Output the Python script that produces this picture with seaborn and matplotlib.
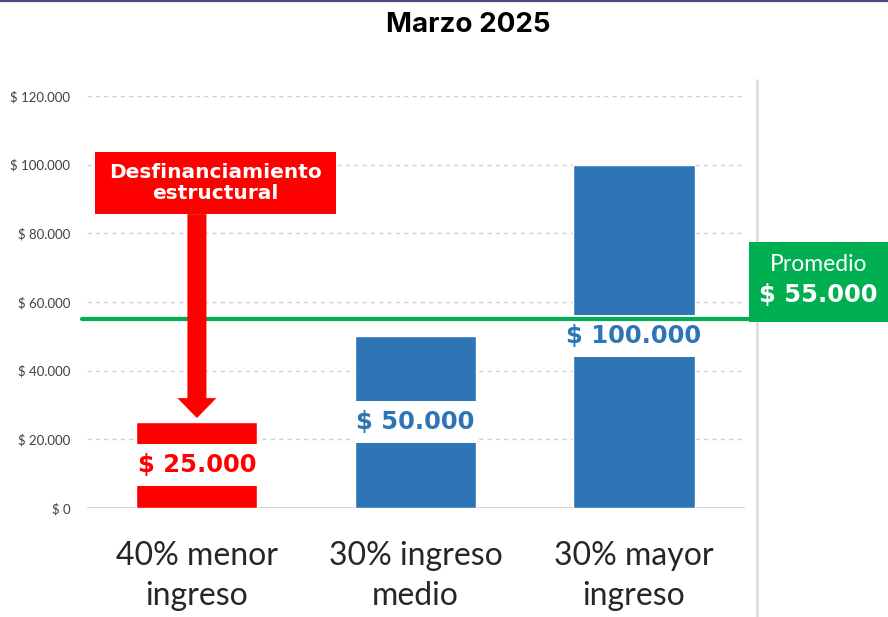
import matplotlib
matplotlib.use("Agg")
import matplotlib.pyplot as plt
import matplotlib.patches as mpatches
import matplotlib.lines as mlines
import matplotlib.transforms as mtransforms
import seaborn as sns
import pandas as pd

# ---- data ----
categories = ["40% menor\ningreso", "30% ingreso\nmedio", "30% mayor\ningreso"]
values = [25000, 50000, 100000]
value_labels = ["$ 25.000", "$ 50.000", "$ 100.000"]
bar_colors = ["#ff0000", "#2e75b6", "#2e75b6"]
label_colors = ["#ff0000", "#2e75b6", "#2e75b6"]
average = 55000
average_label = "$ 55.000"
y_ticks = [0, 20000, 40000, 60000, 80000, 100000, 120000]
y_tick_labels = ["$ 0", "$ 20.000", "$ 40.000", "$ 60.000", "$ 80.000", "$ 100.000", "$ 120.000"]
title = "Marzo 2025"
callout = "Desfinanciamiento\nestructural"

df = pd.DataFrame({"grupo": categories, "valor": values})

sns.set_theme(style="white")
W, H = 888, 617
fig = plt.figure(figsize=(W / 100, H / 100), dpi=100)
ax = fig.add_axes([87 / W, 1 - 508 / H, (745 - 87) / W, (508 - 96) / H])

sns.barplot(data=df, x="grupo", y="valor", hue="grupo", palette=bar_colors,
            width=0.554, legend=False, ax=ax, saturation=1)

ax.set_ylim(0, 120000)
ax.set_xlim(-0.503, 2.508)
ax.set_yticks(y_ticks)
ax.set_yticklabels(y_tick_labels, fontsize=9.5, color="#404040", family="Lato")
ax.set_xticks(range(len(categories)))
ax.set_xticklabels(categories, fontsize=23, color="#262626", family="Lato", linespacing=1.4)
ax.tick_params(axis="y", length=0, pad=12)
ax.tick_params(axis="x", length=0, pad=24)
ax.set_xlabel("")
ax.set_ylabel("")
for s in ax.spines.values():
    s.set_visible(False)

# gridlines
for t in y_ticks[1:]:
    ax.axhline(t, color="#d0d0d0", lw=1.0, ls=(0, (3, 3)), zorder=0)
ax.axhline(0, color="#d9d9d9", lw=1.5, zorder=0.5)

# white gaps and value labels
for patch, v, lab, col in zip(ax.patches, values, value_labels, label_colors):
    x0 = patch.get_x()
    w = patch.get_width()
    gap = 12300
    ax.add_patch(mpatches.Rectangle((x0 - 0.01, v / 2 - gap / 2), w + 0.02, gap,
                                    facecolor="white", edgecolor="none", zorder=3))
    ax.text(x0 + w / 2, v / 2, lab, ha="center", va="center", color=col,
            fontsize=17.5, fontweight="bold", family="DejaVu Sans", zorder=4)

# right vertical line (behind the green box)
ax.add_line(mlines.Line2D([757 / W, 757 / W], [0, 1 - 80 / H], transform=fig.transFigure,
                          color="#d9d9d9", lw=1.8, clip_on=False, zorder=1))

# average line
ax.axhline(average, xmin=-0.008, xmax=(W - 87) / (745 - 87), color="#00b050",
           lw=3, clip_on=False, zorder=5)

# green box
trans = mtransforms.blended_transform_factory(fig.transFigure, ax.transData)
box_bottom = average - 800
box_top = 77500
ax.add_patch(mpatches.Rectangle((749 / W, box_bottom), 1 - 749 / W, box_top - box_bottom,
                                transform=trans, facecolor="#00b050", edgecolor="none",
                                clip_on=False, zorder=6))
xc = (749 + W) / 2 / W
ax.text(xc, 70900, "Promedio", transform=trans, ha="center", va="center",
        color="white", fontsize=16.5, family="Lato", zorder=7)
ax.text(xc, 62000, average_label, transform=trans, ha="center", va="center",
        color="white", fontsize=17.5, fontweight="bold", family="DejaVu Sans", zorder=7)

# red callout box and arrow
cx = ax.patches[0].get_x() + ax.patches[0].get_width() / 2
box_lo, box_hi = 85600, 103700
ax.add_patch(mpatches.Rectangle((cx - 0.467, box_lo), 1.103, box_hi - box_lo,
                                facecolor="#ff0000", edgecolor="none", zorder=6))
ax.text(cx + 0.0845, (box_lo + box_hi) / 2, callout, ha="center", va="center",
        color="white", fontsize=14.5, fontweight="bold", family="DejaVu Sans",
        linespacing=1.15, zorder=7)
ax.add_patch(mpatches.FancyArrow(cx, box_lo, 0, 26200 - box_lo, width=0.087,
                                 head_width=0.178, head_length=5800,
                                 length_includes_head=True, facecolor="#ff0000",
                                 edgecolor="none", zorder=6))

# top border
fig.add_artist(mlines.Line2D([0, 1], [1 - 0.8 / H, 1 - 0.8 / H], color="#4b4b80", lw=1.6))

fig.text(468 / W, 1 - 25 / H, title, ha="center", va="center", fontsize=20,
         fontweight="bold", family="Inter", color="black")

fig.savefig("out.png", dpi=100)
